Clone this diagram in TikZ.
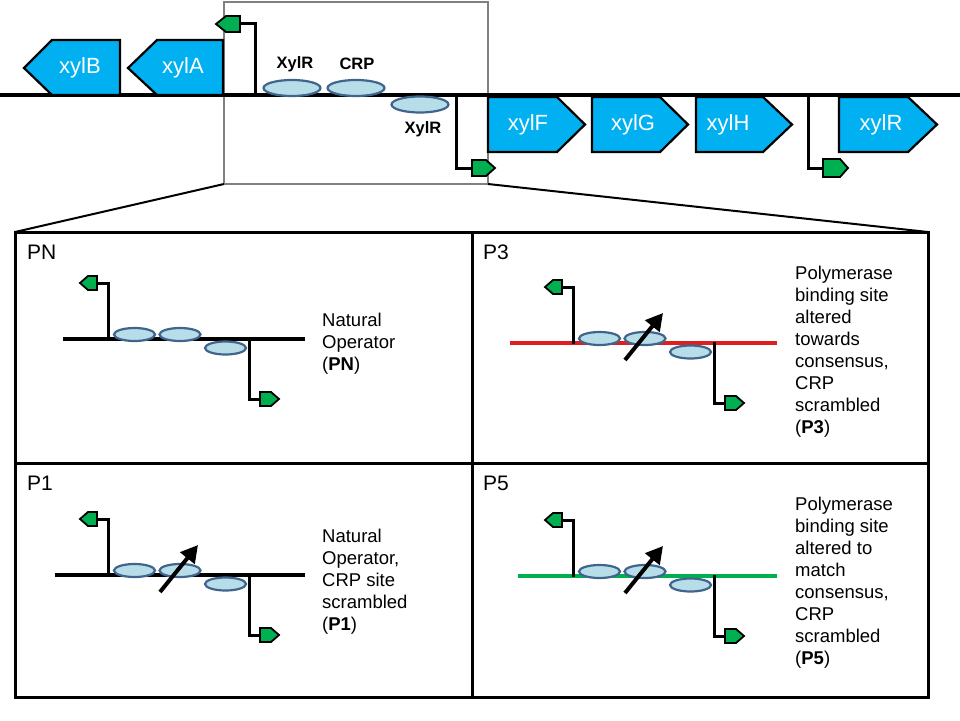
\documentclass[tikz,border=0pt]{standalone}
\usepackage{fontspec}
\setmainfont{Liberation Sans}
\usetikzlibrary{arrows.meta}

\definecolor{genecyan}{RGB}{0,176,240}
\definecolor{promgreen}{RGB}{0,176,80}
\definecolor{sitefill}{RGB}{183,222,232}
\definecolor{siteline}{RGB}{65,100,140}
\definecolor{boxgray}{RGB}{128,128,128}
\definecolor{lined}{RGB}{225,30,30}

\tikzset{
  dna/.style={line width=3.5pt},
  gene/.style={fill=genecyan,draw=black,line width=2.2pt,line join=miter},
  genelabel/.style={text=white,inner sep=0pt,font=\fontsize{22}{22}\selectfont},
  prom/.style={fill=promgreen,draw=black,line width=1.8pt},
  promstem/.style={draw=black,line width=3pt},
  site/.style={fill=sitefill,draw=siteline,line width=2.2pt},
  sitelabel/.style={inner sep=0pt,font=\bfseries\fontsize{16.5}{16.5}\selectfont},
  panellabel/.style={anchor=north west,inner sep=0pt,font=\fontsize{21}{21}\selectfont},
  paneltext/.style={anchor=north west,align=left,inner sep=0pt,font=\fontsize{18.5}{22}\selectfont},
  mutation/.style={line width=4pt,-{Triangle[length=17pt,width=18pt]}}
}

% operator construct: #1 line colour, #2 left end, #3 right end
\newcommand{\operatorsite}[3]{
  \draw[dna,draw=#1] (#2,0) -- (#3,0);
  \draw[site] (26.5,-4.5) ellipse [x radius=20.5,y radius=6.5];
  \draw[site] (72,-4.5) ellipse [x radius=20.5,y radius=6.5];
  \draw[site] (117.5,9) ellipse [x radius=20.5,y radius=6.5];
  \draw[promstem] (0,1) -- (0,-56) -- (-11,-56);
  \draw[prom] (-11,-49) -- (-20,-49) -- (-28,-56) -- (-20,-63) -- (-11,-63) -- cycle;
  \draw[promstem] (141,-1) -- (141,60) -- (152,60);
  \draw[prom] (152,53) -- (163,53) -- (171,60) -- (163,67) -- (152,67) -- cycle;
}
\newcommand{\scrambled}{\draw[mutation] (52,17) -- (90,-30);}

\begin{document}
\begin{tikzpicture}[x=1pt,y=-1pt]
\useasboundingbox (0,0) rectangle (960,720);

% zoom box
\draw[boxgray,line width=2pt] (224,1.5) rectangle (488,184);

% DNA
\draw[dna] (0,95) -- (960,95);

% genes
\draw[gene] (24,68) -- (52,40) -- (120,40) -- (120,95) -- (52,95) -- cycle;
\node[genelabel] (xylB) at (80,68) {xylB};
\draw[gene] (128,68) -- (157,40) -- (223,40) -- (223,95) -- (157,95) -- cycle;
\node[genelabel] (xylA) at (183,68) {xylA};
\draw[gene] (488,97) -- (557,97) -- (585,124.5) -- (557,152) -- (488,152) -- cycle;
\node[genelabel] (xylF) at (528,125) {xylF};
\draw[gene] (592,97) -- (660,97) -- (688,124.5) -- (660,152) -- (592,152) -- cycle;
\node[genelabel] (xylG) at (633,125) {xylG};
\draw[gene] (696,97) -- (763,97) -- (792,124.5) -- (763,152) -- (696,152) -- cycle;
\node[genelabel] (xylH) at (728,125) {xylH};
\draw[gene] (839,97) -- (908,97) -- (937,124.5) -- (908,152) -- (839,152) -- cycle;
\node[genelabel] (xylR) at (881,125) {xylR};

% binding sites
\draw[site] (292,88) ellipse [x radius=28.5,y radius=8];
\draw[site] (356,88) ellipse [x radius=28.5,y radius=8];
\draw[site] (420,104.5) ellipse [x radius=28.5,y radius=8];
\node[sitelabel] (xylRa) at (295,64) {XylR};
\node[sitelabel] (crp) at (357,64) {CRP};
\node[sitelabel] (xylRb) at (423,129) {XylR};

% promoters
\draw[promstem] (255,96) -- (255,23) -- (240,23);
\draw[prom] (240,16) -- (226,16) -- (216,24) -- (226,32) -- (240,32) -- cycle;
\draw[promstem] (456,94) -- (456,168) -- (472,168);
\draw[prom] (472,160) -- (486,160) -- (495,168) -- (486,176) -- (472,176) -- cycle;
\draw[promstem] (808,94) -- (808,168) -- (823,168);
\draw[prom] (823,159) -- (840,159) -- (848,168) -- (840,177) -- (823,177) -- cycle;

% zoom lines
\draw[line width=2pt] (224,184) -- (15,232);
\draw[line width=2pt] (488,184) -- (928,232);

% panels
\draw[line width=3pt] (15,232) rectangle (928,697);
\draw[line width=3pt] (472,232) -- (472,697);
\draw[line width=3pt] (15,463) -- (928,463);

\node[panellabel] (pn) at (27,245) {PN};
\node[panellabel] (p3) at (483,245) {P3};
\node[panellabel] (p1) at (27,476) {P1};
\node[panellabel] (p5) at (483,476) {P5};

\begin{scope}[shift={(108,339)}]
\operatorsite{black}{-45}{197}
\end{scope}
\begin{scope}[shift={(573,343)}]
\operatorsite{lined}{-63}{204}
\scrambled
\end{scope}
\begin{scope}[shift={(108,575)}]
\operatorsite{black}{-53}{197}
\scrambled
\end{scope}
\begin{scope}[shift={(573,576)}]
\operatorsite{promgreen}{-55}{204}
\scrambled
\end{scope}

\node[paneltext] (pntext) at (322,313) {Natural\\Operator\\(\textbf{PN})};
\node[paneltext] (p3text) at (795,266) {Polymerase\\binding site\\altered\\towards\\consensus,\\CRP\\scrambled\\(\textbf{P3})};
\node[paneltext] (p1text) at (322,529) {Natural\\Operator,\\CRP site\\scrambled\\(\textbf{P1})};
\node[paneltext] (p5text) at (795,497) {Polymerase\\binding site\\altered to\\match\\consensus,\\CRP\\scrambled\\(\textbf{P5})};

\end{tikzpicture}
\end{document}
